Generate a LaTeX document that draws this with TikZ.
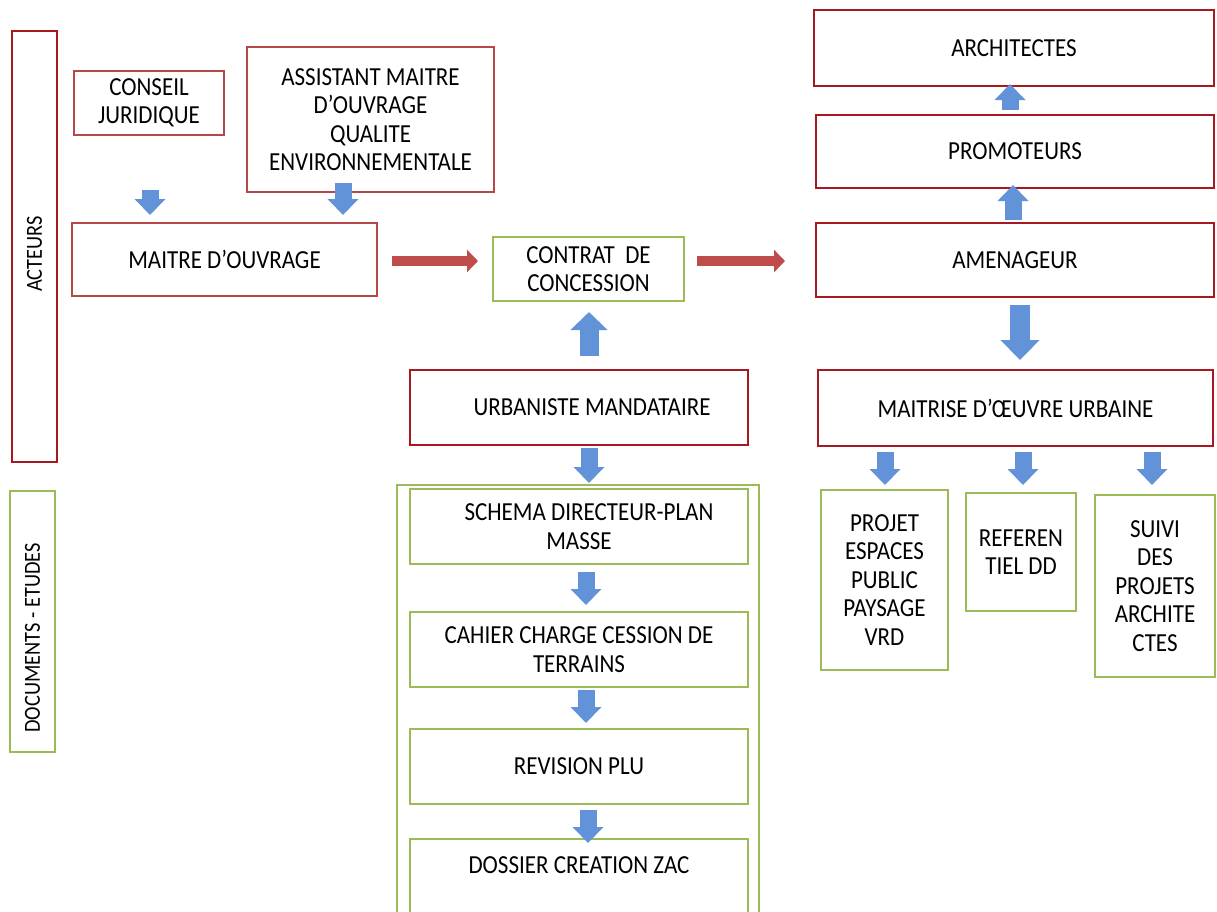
\documentclass[tikz,border=0pt]{standalone}
\usepackage{fontspec}
\setmainfont{Carlito}[FakeStretch=0.885]
\usepackage{tikz}
\usetikzlibrary{arrows.meta,calc}
\definecolor{softred}{RGB}{182,72,74}
\definecolor{deepred}{RGB}{168,24,32}
\definecolor{leafgreen}{RGB}{155,187,89}
\definecolor{flowblue}{RGB}{98,146,216}
\definecolor{flowred}{RGB}{190,76,74}

\begin{document}
\begin{tikzpicture}[
x=1pt, y=-1pt,
box/.style={draw, line width=2.8pt, inner sep=0pt, outer sep=0pt, align=center, font=\fontsize{26}{28.5}\selectfont},
redbox/.style={box, draw=softred},
darkbox/.style={box, draw=deepred},
greenbox/.style={box, draw=leafgreen},
sidebox/.style={draw, line width=2.8pt, inner sep=0pt, outer sep=0pt, rotate=90, minimum height=45pt, font=\fontsize{23}{26}\selectfont},
bluearrow/.style={-{Triangle[width=30pt,length=16pt]}, line width=17pt, flowblue},
bigblue/.style={-{Triangle[width=36pt,length=18pt]}, line width=19pt, flowblue},
hugeblue/.style={-{Triangle[width=38pt,length=20pt]}, line width=20pt, flowblue},
redarrow/.style={-{Triangle[width=22pt,length=11pt]}, line width=10pt, flowred}
]
\useasboundingbox (0,0) rectangle (1217,911);

\node[sidebox, draw=deepred, minimum width=431pt] (acteurs) at (34.5,246.5) {ACTEURS\hspace*{15pt}};
\node[sidebox, draw=leafgreen, minimum width=261pt] (documents) at (32.5,621.5) {DOCUMENTS - ETUDES\hspace*{33pt}};

\node[redbox, minimum width=150pt, minimum height=64pt] (conseil) at (149,103) {CONSEIL\\JURIDIQUE};
\node[redbox, minimum width=247pt, minimum height=145pt] (assistant) at (370.5,119.5) {ASSISTANT MAITRE\\D’OUVRAGE\\QUALITE\\ENVIRONNEMENTALE};
\node[redbox, minimum width=305pt, minimum height=73pt] (maitre) at (224.5,259.5) {MAITRE D’OUVRAGE};

\node[greenbox, minimum width=191pt, minimum height=64pt] (contrat) at (588.5,269) {CONTRAT~~DE\\CONCESSION};
\node[darkbox, minimum width=338pt, minimum height=75pt] (urbaniste) at (579,407.5) {\hspace*{26pt}URBANISTE MANDATAIRE};

\node[greenbox, minimum width=362pt, minimum height=475pt] (docs) at (578,722.5) {};
\node[greenbox, minimum width=338pt, minimum height=75pt] (schema) at (579,526.5) {\hspace*{20pt}SCHEMA DIRECTEUR-PLAN\\MASSE};
\node[greenbox, minimum width=338pt, minimum height=75pt] (cahier) at (579,649.5) {CAHIER CHARGE CESSION DE\\TERRAINS};
\node[greenbox, minimum width=338pt, minimum height=75pt] (revision) at (579,766.5) {REVISION PLU};
\node[greenbox, anchor=north, minimum width=338pt, text height=34pt, text depth=77pt] (dossier) at (579,839) {DOSSIER CREATION ZAC};

\node[darkbox, minimum width=400pt, minimum height=76pt] (architectes) at (1014,48) {ARCHITECTES};
\node[darkbox, minimum width=398pt, minimum height=73pt] (promoteurs) at (1015,151.5) {PROMOTEURS};
\node[darkbox, minimum width=398pt, minimum height=74pt] (amenageur) at (1015,260) {AMENAGEUR};
\node[darkbox, minimum width=395pt, minimum height=76pt] (maitrise) at (1015.5,408) {MAITRISE D’ŒUVRE URBAINE};

\node[greenbox, minimum width=127pt, minimum height=180pt] (projet) at (884.5,580) {PROJET\\ESPACES\\PUBLIC\\PAYSAGE\\VRD};
\node[greenbox, minimum width=110pt, minimum height=118pt] (referen) at (1021,552) {REFEREN\\TIEL DD};
\node[greenbox, minimum width=120pt, minimum height=182pt] (suivi) at (1155,586) {SUIVI\\DES\\PROJETS\\ARCHITE\\CTES};

\draw[bluearrow] ($(conseil.south)+(1,55)$) -- ($(conseil.south |- maitre.north)+(1,-8)$);
\draw[bluearrow] ($(assistant.south)+(-27.5,-9)$) -- ($(assistant.south |- maitre.north)+(-27.5,-8)$);
\draw[redarrow] ($(maitre.east)+(15,1.5)$) -- ($(contrat.west |- maitre.east)+(-15,1.5)$);
\draw[redarrow] ($(contrat.east |- maitre.east)+(13,1.5)$) -- ($(amenageur.west |- maitre.east)+(-31,1.5)$);
\draw[bigblue] ($(urbaniste.north)+(10,-14)$) -- ($(urbaniste.north |- contrat.south)+(10,11)$);
\draw[bluearrow] ($(urbaniste.south)+(10,3)$) -- ($(urbaniste.south |- docs.north)+(10,-2)$);
\draw[bluearrow] ($(schema.south)+(7,8)$) -- ($(schema.south |- cahier.north)+(7,-7)$);
\draw[bluearrow] ($(cahier.south)+(7,3)$) -- ($(cahier.south |- revision.north)+(7,-6)$);
\draw[bluearrow] ($(revision.south)+(9,6)$) -- ($(revision.south |- dossier.north)+(9,4)$);
\draw[bluearrow] ($(amenageur.north)+(-2,-3)$) -- ($(amenageur.north |- promoteurs.south)+(-2,-3)$);
\draw[bluearrow] ($(promoteurs.north)+(-5,-5)$) -- ($(promoteurs.north |- architectes.south)+(-5,-2)$);
\draw[hugeblue] ($(amenageur.south)+(5,8)$) -- ($(amenageur.south |- maitrise.north)+(5,-10)$);
\draw[bluearrow] ($(projet.north |- maitrise.south)+(0.5,6)$) -- ($(projet.north)+(0.5,-5)$);
\draw[bluearrow] ($(referen.north |- maitrise.south)+(2,6)$) -- ($(referen.north)+(2,-8)$);
\draw[bluearrow] ($(suivi.north |- maitrise.south)+(-3,6)$) -- ($(suivi.north)+(-3,-10)$);
\end{tikzpicture}
\end{document}
